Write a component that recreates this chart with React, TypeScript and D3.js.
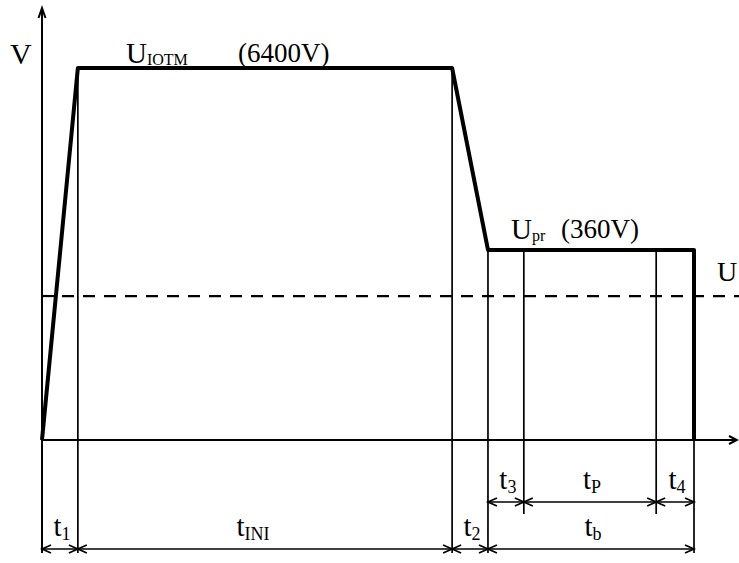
import React from 'react';
import * as d3 from 'd3';

const W = 739;
const H = 563;

// schematic waveform (time in % of total pulse, voltage as relative level)
const waveT = [0, 5.5, 62.9, 68.4, 100, 100];
const waveV = [0, 1, 1, 0.511, 0.511, 0];
const levelU = 0.387;

// boundary marker lines
const boundT = [5.5, 62.9, 68.4, 73.9, 94.2, 100];
const boundV = [1, 1, 0.511, 0.511, 0.511, 0.511];
const boundRow = [0, 0, 0, 1, 1, 0]; // 0 = down to lower row, 1 = upper row

// dimension spans
const lowStart = [0, 5.5, 62.9, 68.4];
const lowEnd = [5.5, 62.9, 68.4, 100];
const lowSub = ['1', 'INI', '2', 'b'];
const upStart = [68.4, 73.9, 94.2];
const upEnd = [73.9, 94.2, 100];
const upSub = ['3', 'P', '4'];

const FONT = 'Liberation Serif, Times New Roman, DejaVu Serif, serif';

export default function App() {
  const x = d3.scaleLinear().domain([0, 100]).range([42, 694]);
  const y = d3.scaleLinear().domain([0, 1]).range([440, 68]);

  const line = d3
    .line<number>()
    .x((_, i) => x(waveT[i]))
    .y((_, i) => y(waveV[i]));

  const lowY = 549;
  const upY = 502;
  const lineBottom = [553, 514];

  const arrow = (x1: number, x2: number, yy: number, key: string) => {
    const a = 9, b = 4;
    return (
      <g key={key} stroke="#000" strokeWidth={1.7} fill="none">
        <line x1={x1} y1={yy} x2={x2} y2={yy} />
        <path d={`M${x1 + a},${yy - b}L${x1},${yy}L${x1 + a},${yy + b}`} />
        <path d={`M${x2 - a},${yy - b}L${x2},${yy}L${x2 - a},${yy + b}`} />
      </g>
    );
  };

  const label = (cx: number, base: number, sub: string, key: string) => (
    <text key={key} x={cx} y={base} textAnchor="middle" style={{ fontFamily: FONT, fontSize: 29 }}>
      t<tspan style={{ fontSize: 18 }} dy={4}>{sub}</tspan>
    </text>
  );

  const ts = (size: number) => ({ fontFamily: FONT, fontSize: size });

  return (
    <svg
      width={W}
      height={H}
      style={{ position: 'absolute', left: 0, top: 0, background: '#fff' }}
    >
      <rect width={W} height={H} fill="#fff" />
      {/* axes */}
      <g stroke="#000" strokeWidth={2} fill="none">
        <line x1={x(0)} y1={553} x2={x(0)} y2={9} />
        <path d={`M${x(0) - 3.5},${18}L${x(0)},${8}L${x(0) + 3.5},${18}`} />
        <line x1={x(0)} y1={y(0)} x2={737} y2={y(0)} />
        <path d={`M${729},${y(0) - 4}L${737},${y(0)}L${729},${y(0) + 4}`} />
      </g>

      {/* dashed U level */}
      <line x1={x(0)} y1={y(levelU)} x2={56} y2={y(levelU)} stroke="#000" strokeWidth={2.2} />
      <line
        x1={62}
        y1={y(levelU)}
        x2={W}
        y2={y(levelU)}
        stroke="#000"
        strokeWidth={2.2}
        strokeDasharray="12 9"
      />

      {/* boundary lines */}
      {boundT.map((t, i) => (
        <line
          key={'b' + i}
          x1={x(t)}
          y1={y(boundV[i])}
          x2={x(t)}
          y2={lineBottom[boundRow[i]]}
          stroke="#000"
          strokeWidth={1.7}
        />
      ))}

      {/* waveform */}
      <path
        d={line(waveT) || ''}
        fill="none"
        stroke="#000"
        strokeWidth={4}
        strokeLinejoin="round"
      />

      {/* dimension arrows */}
      {lowStart.map((s, i) => arrow(x(s), x(lowEnd[i]), lowY, 'la' + i))}
      {upStart.map((s, i) => arrow(x(s), x(upEnd[i]), upY, 'ua' + i))}
      {lowStart.map((s, i) =>
        label((x(s) + x(lowEnd[i])) / 2 + (lowSub[i] === 'INI' ? -12 : 2), 536, lowSub[i], 'll' + i)
      )}
      {upStart.map((s, i) => label((x(s) + x(upEnd[i])) / 2 + 2, 489, upSub[i], 'ul' + i))}

      {/* texts */}
      <text x={10} y={64} style={ts(30)}>V</text>
      <text x={126} y={63} style={ts(29)}>
        U<tspan style={{ fontSize: 16 }} dy={2}>IOTM</tspan>
      </text>
      <text x={238} y={62} style={ts(27)}>(6400V)</text>
      <text x={511} y={239} style={ts(29)}>
        U<tspan style={{ fontSize: 16 }} dy={2}>pr</tspan>
      </text>
      <text x={561} y={238} style={ts(27)}>(360V)</text>
      <text x={717} y={281} style={ts(28)}>U</text>
    </svg>
  );
}
